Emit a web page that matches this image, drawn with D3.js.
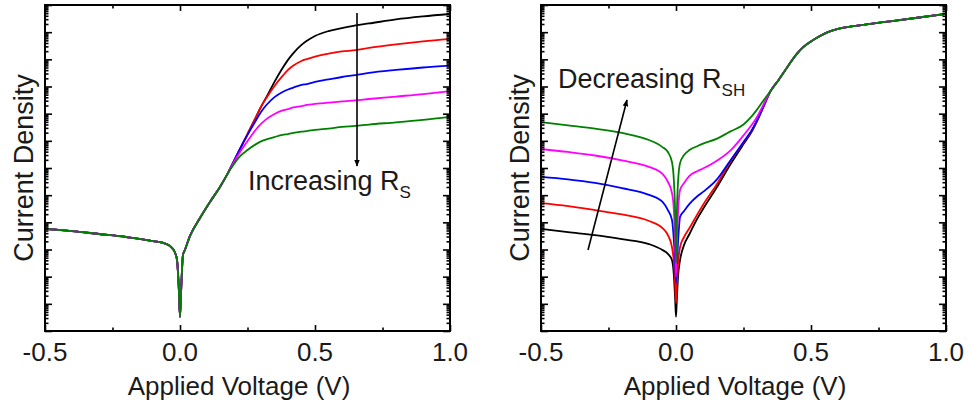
<!DOCTYPE html>
<html><head><meta charset="utf-8">
<script src="https://cdn.jsdelivr.net/npm/d3@7"></script>
<style>
body{margin:0;background:#fff}
svg{display:block}
text{font-family:"Liberation Sans",Arial,Helvetica,sans-serif;fill:#1a1a1a}
</style>
</head><body>
<svg id="chart" width="968" height="407"></svg>
<script>
// ---- Data (current density given as log10 values, arbitrary units) ----
const xTickValues = [-0.5, 0.0, 0.5, 1.0];
const xTickLabels = ["-0.5", "0.0", "0.5", "1.0"];
const xMinorValues = [-0.25, 0.25, 0.75];
const seriesColors = ["#000000", "#ff0000", "#0000ff", "#ff00ff", "#008000"];

// Left panel: increasing series resistance
const voltageL = [-0.5,-0.4,-0.3,-0.2,-0.1,-0.05,-0.03,-0.018,-0.011,-0.005,0,0.005,0.011,0.018,0.037,0.074,0.111,0.148,0.178,
                  0.2,0.22,0.25,0.28,0.3,0.32,0.35,0.38,0.4,0.42,0.45,0.47,0.5,0.55,0.6,0.65,0.7,0.8,0.9,1.0];
const leftBlack   = [-8.24,-8.32,-8.43,-8.54,-8.69,-8.80,-8.94,-9.13,-9.39,-10.3,-11.48,-10.3,-9.2,-9.02,-8.50,-7.84,-7.25,-6.70,-6.18,
                     -5.74,-5.34,-4.75,-4.16,-3.75,-3.39,-2.83,-2.32,-2.02,-1.77,-1.47,-1.32,-1.14,-0.96,-0.85,-0.75,-0.68,-0.53,-0.42,-0.33];
const leftRed     = [-8.24,-8.32,-8.43,-8.54,-8.69,-8.80,-8.94,-9.13,-9.39,-10.3,-11.48,-10.3,-9.2,-9.02,-8.50,-7.84,-7.25,-6.70,-6.18,
                     -5.74,-5.34,-4.75,-4.16,-3.75,-3.42,-2.98,-2.61,-2.39,-2.23,-2.06,-1.99,-1.90,-1.79,-1.71,-1.66,-1.58,-1.45,-1.34,-1.25];
const leftBlue    = [-8.24,-8.32,-8.43,-8.54,-8.69,-8.80,-8.94,-9.13,-9.39,-10.3,-11.48,-10.3,-9.2,-9.02,-8.50,-7.84,-7.25,-6.70,-6.18,
                     -5.74,-5.34,-4.78,-4.27,-3.94,-3.68,-3.39,-3.20,-3.11,-3.04,-2.94,-2.91,-2.83,-2.74,-2.65,-2.58,-2.50,-2.39,-2.30,-2.23];
const leftMagenta = [-8.24,-8.32,-8.43,-8.54,-8.69,-8.80,-8.94,-9.13,-9.39,-10.3,-11.48,-10.3,-9.2,-9.02,-8.50,-7.84,-7.25,-6.70,-6.18,
                     -5.78,-5.45,-5.01,-4.60,-4.38,-4.20,-4.01,-3.88,-3.83,-3.77,-3.72,-3.68,-3.64,-3.59,-3.55,-3.51,-3.46,-3.37,-3.28,-3.17];
const leftGreen   = [-8.24,-8.32,-8.43,-8.54,-8.69,-8.80,-8.94,-9.13,-9.39,-10.3,-11.48,-10.3,-9.2,-9.02,-8.50,-7.84,-7.25,-6.70,-6.18,
                     -5.85,-5.59,-5.34,-5.13,-5.02,-4.95,-4.86,-4.78,-4.75,-4.71,-4.66,-4.64,-4.60,-4.55,-4.49,-4.45,-4.40,-4.32,-4.23,-4.12];

// Right panel: decreasing shunt resistance
const voltageR = [-0.5,-0.4,-0.3,-0.2,-0.1,-0.05,-0.03,-0.015,-0.008,-0.003,0,0.003,0.008,0.015,0.03,0.05,0.08,0.1,0.15,
                  0.2,0.25,0.28,0.3,0.32,0.35,0.38,0.4,0.42,0.45,0.47,0.5,0.53,0.56,0.6,0.65,0.7,0.8,0.9,1.0];
const rightBlack   = [-8.24,-8.36,-8.47,-8.62,-8.80,-9.02,-9.16,-9.39,-9.94,-10.86,-11.48,-10.86,-9.94,-9.39,-8.83,-8.43,-7.84,-7.51,-6.73,
                      -5.89,-5.12,-4.67,-4.27,-3.83,
                      -3.17,-2.76,-2.47,-2.17,-1.77,-1.56,-1.34,-1.16,-1.01,-0.88,-0.79,-0.72,-0.59,-0.46,-0.33];
const rightRed     = [-7.29,-7.40,-7.55,-7.71,-7.95,-8.21,-8.47,-8.91,-9.46,-10.31,-10.97,-10.31,-9.46,-8.91,-8.54,-8.21,-7.69,-7.36,-6.62,
                      -5.78,-5.06,-4.64,-4.27,-3.83,
                      -3.17,-2.76,-2.47,-2.17,-1.77,-1.56,-1.34,-1.16,-1.01,-0.88,-0.79,-0.72,-0.59,-0.46,-0.33];
const rightBlue    = [-6.33,-6.42,-6.55,-6.74,-6.99,-7.25,-7.55,-7.91,-8.65,-9.57,-10.23,-9.57,-8.65,-7.80,-7.58,-7.32,-7.03,-6.88,-6.44,
                      -5.74,-5.04,-4.62,-4.25,-3.81,
                      -3.17,-2.76,-2.47,-2.17,-1.77,-1.56,-1.34,-1.16,-1.01,-0.88,-0.79,-0.72,-0.59,-0.46,-0.33];
const rightMagenta = [-5.30,-5.41,-5.54,-5.72,-5.96,-6.22,-6.51,-6.92,-7.55,-8.83,-10.01,-8.83,-7.55,-6.81,-6.55,-6.29,-6.11,-6.02,-5.74,
                      -5.37,-4.80,-4.42,-4.12,-3.74,
                      -3.17,-2.76,-2.47,-2.17,-1.77,-1.56,-1.34,-1.16,-1.01,-0.88,-0.79,-0.72,-0.59,-0.46,-0.33];
const rightGreen   = [-4.31,-4.43,-4.55,-4.71,-4.97,-5.23,-5.41,-5.78,-6.44,-7.73,-9.5,-7.73,-6.44,-5.82,-5.52,-5.34,-5.19,-5.10,-4.93,
                      -4.66,-4.40,-4.10,-3.85,-3.57,
                      -3.17,-2.76,-2.47,-2.17,-1.77,-1.56,-1.34,-1.16,-1.01,-0.88,-0.79,-0.72,-0.59,-0.46,-0.33];

const yDomain = [1e-12, 1];

// ---- Drawing ----
const svg = d3.select("#chart");
const defs = svg.append("defs");
defs.append("marker").attr("id","ah").attr("viewBox","0 0 10 10").attr("refX",9).attr("refY",5)
  .attr("markerWidth",7).attr("markerHeight",7).attr("markerUnits","userSpaceOnUse").attr("orient","auto")
  .append("path").attr("d","M0,1 L10,5 L0,9 Z").attr("fill","#000");

const plotTop = 5, plotBottom = 331;

function panel(x0, x1, volts, seriesList, labelCenter) {
  const g = svg.append("g");
  const x = d3.scaleLinear().domain([-0.5, 1.0]).range([x0, x1]);
  const y = d3.scaleLog().domain(yDomain).range([plotBottom, plotTop]);

  const line = d3.line().x(d => x(d[0])).y(d => y(d[1])).curve(d3.curveMonotoneX);
  seriesList.forEach((vals, i) => {
    const pts = volts.map((v, k) => [v, Math.pow(10, vals[k])]);
    g.append("path").attr("d", line(pts)).attr("fill","none")
      .attr("stroke", seriesColors[i]).attr("stroke-width", 1.8).attr("stroke-linejoin","round");
  });

  const majors = [], minors = [];
  for (let e = -12; e <= 0; e++) {
    majors.push(Math.pow(10, e));
    if (e < 0) for (let k = 2; k <= 9; k++) minors.push(k * Math.pow(10, e));
  }
  const ax = (gen, tx, ty) => g.append("g").attr("transform", `translate(${tx},${ty})`).call(gen)
      .call(s => s.select(".domain").remove())
      .call(s => s.selectAll("line").attr("stroke","#000").attr("stroke-width",1.6));
  ax(d3.axisLeft(y).tickValues(majors).tickSize(-7).tickFormat(""), x0, 0);
  ax(d3.axisLeft(y).tickValues(minors).tickSize(-3.5).tickFormat(""), x0, 0);
  ax(d3.axisRight(y).tickValues(majors).tickSize(-7).tickFormat(""), x1, 0);
  ax(d3.axisRight(y).tickValues(minors).tickSize(-3.5).tickFormat(""), x1, 0);
  ax(d3.axisBottom(x).tickValues(xTickValues).tickSize(-6).tickFormat(""), 0, plotBottom);
  ax(d3.axisBottom(x).tickValues(xMinorValues).tickSize(-3.5).tickFormat(""), 0, plotBottom);
  ax(d3.axisTop(x).tickValues(xTickValues).tickSize(-6).tickFormat(""), 0, plotTop);
  ax(d3.axisTop(x).tickValues(xMinorValues).tickSize(-3.5).tickFormat(""), 0, plotTop);

  g.append("rect").attr("x", x0).attr("y", plotTop).attr("width", x1 - x0).attr("height", plotBottom - plotTop)
    .attr("fill","none").attr("stroke","#000").attr("stroke-width",2);

  xTickValues.forEach((v, i) => {
    g.append("text").attr("x", x(v)).attr("y", 361).attr("text-anchor","middle")
      .attr("font-size", 26).text(xTickLabels[i]);
  });
  g.append("text").attr("x", labelCenter).attr("y", 395).attr("text-anchor","middle")
    .attr("font-size", 26).text("Applied Voltage (V)");
  g.append("text").attr("transform", `translate(${x0 - 12},168) rotate(-90)`).attr("text-anchor","middle")
    .attr("font-size", 27).text("Current Density");
  return {x, y, g};
}

const L = panel(45, 450, voltageL, [leftBlack, leftRed, leftBlue, leftMagenta, leftGreen], 239);
const R = panel(541, 946, voltageR, [rightBlack, rightRed, rightBlue, rightMagenta, rightGreen], 735);

L.g.append("line").attr("x1", 357).attr("y1", 13).attr("x2", 357).attr("y2", 166)
  .attr("stroke","#000").attr("stroke-width",1.6).attr("marker-end","url(#ah)");
const t1 = L.g.append("text").attr("x", 248).attr("y", 190).attr("font-size", 27);
t1.append("tspan").text("Increasing R");
t1.append("tspan").attr("dy", 8).attr("font-size", 17).text("S");

R.g.append("line").attr("x1", 588).attr("y1", 250).attr("x2", 627).attr("y2", 100)
  .attr("stroke","#000").attr("stroke-width",1.6).attr("marker-end","url(#ah)");
const t2 = R.g.append("text").attr("x", 558).attr("y", 88).attr("font-size", 27);
t2.append("tspan").text("Decreasing R");
t2.append("tspan").attr("dy", 8).attr("font-size", 17).text("SH");
</script>
</body></html>
